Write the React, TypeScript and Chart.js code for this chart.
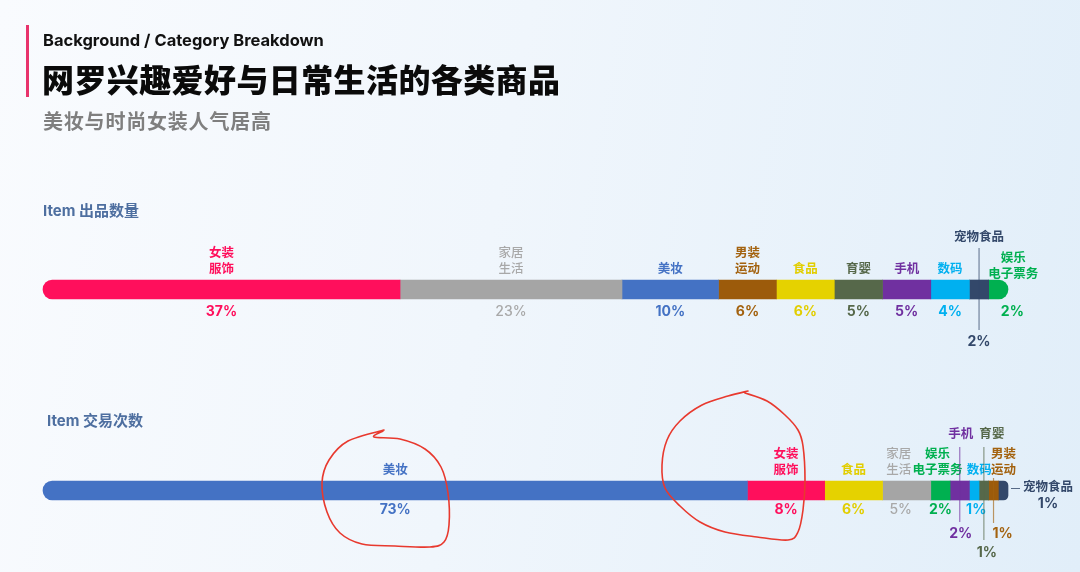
import React, { useEffect, useRef } from 'react';
import { Chart, registerables } from 'chart.js';

Chart.register(...registerables);

// ---------------- data ----------------
const rowTitles = ['Item 出品数量', 'Item 交易次数'];

const topCategories = ['女装服饰', '家居生活', '美妆', '男装运动', '食品', '育婴', '手机', '数码', '宠物食品', '娱乐电子票务'];
const topValues = [37, 23, 10, 6, 6, 5, 5, 4, 2, 2];

const bottomCategories = ['美妆', '女装服饰', '食品', '家居生活', '娱乐电子票务', '手机', '数码', '育婴', '男装运动', '宠物食品'];
const bottomValues = [73, 8, 6, 5, 2, 2, 1, 1, 1, 1];

// ---------------- styles ----------------
const categoryColors: Record<string, string> = {
  '女装服饰': '#FF0F5C',
  '家居生活': '#A5A5A5',
  '美妆': '#4472C4',
  '男装运动': '#9C5B0B',
  '食品': '#E5D200',
  '育婴': '#56684A',
  '手机': '#7030A0',
  '数码': '#00B0F0',
  '宠物食品': '#33486A',
  '娱乐电子票务': '#00B050',
};
const textColors: Record<string, string> = {
  ...categoryColors,
  '家居生活': '#A8A8A8',
  '男装运动': '#A3620F',
  '食品': '#E2CE00',
};
const labelLines: Record<string, string[]> = {
  '女装服饰': ['女装', '服饰'],
  '家居生活': ['家居', '生活'],
  '美妆': ['美妆'],
  '男装运动': ['男装', '运动'],
  '食品': ['食品'],
  '育婴': ['育婴'],
  '手机': ['手机'],
  '数码': ['数码'],
  '宠物食品': ['宠物食品'],
  '娱乐电子票务': ['娱乐', '电子票务'],
};
const lightWeight: Record<string, boolean> = { '家居生活': true };

type Place = {
  mode?: 'above' | 'callout' | 'side';
  dx?: number;
  labelUp?: number;
  lineUp?: number;
  lineDown?: number;
  pctDown?: number;
  pctDx?: number;
};
const rowPct = [13, 10];
const placements: Record<string, Place>[] = [
  {
    '宠物食品': { mode: 'callout', labelUp: 44, lineUp: 32, lineDown: 31, pctDown: 43 },
    '娱乐电子票务': { dx: 15, labelUp: 7, pctDx: 14 },
  },
  {
    '家居生活': { dx: -8, pctDx: -6 },
    '娱乐电子票务': { dx: -3 },
    '数码': { dx: 5, pctDx: 2 },
    '手机': { mode: 'callout', dx: 1, labelUp: 48, lineUp: 34, lineDown: 22, pctDown: 34, pctDx: 1 },
    '育婴': { mode: 'callout', dx: 8, labelUp: 48, lineUp: 34, lineDown: 40, pctDown: 53, pctDx: 3 },
    '男装运动': { mode: 'callout', dx: 10, labelUp: 12, lineUp: 3, lineDown: 23, pctDown: 34, pctDx: 9 },
    '宠物食品': { mode: 'side' },
  },
];

const rows = [
  { cats: topCategories, vals: topValues },
  { cats: bottomCategories, vals: bottomValues },
];

const CJK = '"Noto Sans CJK SC", "Noto Sans", sans-serif';
const LATIN = 'Inter, "Noto Sans CJK SC", sans-serif';

const labelPlugin = {
  id: 'segLabels',
  afterDatasetsDraw(chart: any) {
    const ctx: CanvasRenderingContext2D = chart.ctx;
    ctx.save();
    ctx.textAlign = 'center';
    ctx.textBaseline = 'middle';
    const LH = 15.5;
    rows.forEach((row, r) => {
      row.cats.forEach((cat, i) => {
        const el = chart.getDatasetMeta(i).data[r];
        if (!el) return;
        const p = el.getProps(['x', 'base', 'y', 'height'], true);
        const left = Math.min(p.x, p.base);
        const right = Math.max(p.x, p.base);
        const cx = (left + right) / 2;
        const top = p.y - p.height / 2;
        const bottom = p.y + p.height / 2;
        const pl: Place = placements[r][cat] || {};
        const color = textColors[cat];
        const w = lightWeight[cat] ? '500' : 'bold';
        const lines = labelLines[cat];
        const pct = row.vals[i] + '%';
        ctx.fillStyle = color;
        if (pl.mode === 'side') {
          const tx = right + 40;
          ctx.strokeStyle = color;
          ctx.globalAlpha = 0.8;
          ctx.lineWidth = 1;
          ctx.beginPath();
          ctx.moveTo(right + 3, p.y - 2);
          ctx.lineTo(right + 12, p.y - 2);
          ctx.stroke();
          ctx.globalAlpha = 1;
          ctx.font = `${w} 12.5px ${CJK}`;
          ctx.fillText(lines.join(''), tx, p.y - 4);
          ctx.font = `${w} 14px ${LATIN}`;
          ctx.fillText(pct, tx, p.y + 13);
          return;
        }
        const lx = cx + (pl.dx || 0);
        const labelUp = pl.labelUp ?? 12;
        ctx.font = `${w} 12.5px ${CJK}`;
        lines.forEach((ln, k) => {
          const yy = top - labelUp - (lines.length - 1 - k) * LH;
          ctx.fillText(ln, lx, yy);
        });
        const pctDown = pl.pctDown ?? rowPct[r];
        ctx.font = `${w} 14px ${LATIN}`;
        ctx.fillText(pct, cx + (pl.pctDx || 0), bottom + pctDown);
        if (pl.mode === 'callout') {
          ctx.strokeStyle = color;
          ctx.globalAlpha = 0.65;
          ctx.lineWidth = 1.2;
          ctx.beginPath();
          ctx.moveTo(cx, top - (pl.lineUp || 0));
          ctx.lineTo(cx, bottom + (pl.lineDown || 0));
          ctx.stroke();
          ctx.globalAlpha = 1;
        }
      });
    });
    ctx.restore();
  },
};

function smoothPath(pts: number[][]): string {
  let d = `M ${pts[0][0]} ${pts[0][1]}`;
  for (let i = 0; i < pts.length - 1; i++) {
    const p0 = pts[i - 1] || pts[i];
    const p1 = pts[i];
    const p2 = pts[i + 1];
    const p3 = pts[i + 2] || p2;
    const c1 = [p1[0] + (p2[0] - p0[0]) / 6, p1[1] + (p2[1] - p0[1]) / 6];
    const c2 = [p2[0] - (p3[0] - p1[0]) / 6, p2[1] - (p3[1] - p1[1]) / 6];
    d += ` C ${c1[0]} ${c1[1]}, ${c2[0]} ${c2[1]}, ${p2[0]} ${p2[1]}`;
  }
  return d;
}

// hand-drawn annotation strokes
const annotation1 = [
  [383, 431], [374, 437], [400, 439], [425, 449], [441, 467], [448, 493], [449, 525], [444, 542],
  [430, 547], [395, 546], [362, 544], [340, 533], [327, 512], [322, 483], [329, 460], [348, 441], [384, 430],
];
const annotation2 = [
  [745, 393], [767, 401], [785, 415], [798, 430], [803, 446], [805, 480], [803, 510], [798, 532],
  [788, 540], [757, 537], [725, 532], [700, 522], [680, 506], [665, 488], [662, 465], [667, 440],
  [680, 421], [702, 405], [728, 396], [748, 391],
];

export default function App() {
  const canvasRef = useRef<HTMLCanvasElement | null>(null);

  useEffect(() => {
    const canvas = canvasRef.current;
    if (!canvas) return;
    const n = topCategories.length;
    const datasets = topCategories.map((_, i) => ({
      data: [topValues[i], bottomValues[i]],
      backgroundColor: [categoryColors[topCategories[i]], categoryColors[bottomCategories[i]]],
      borderWidth: 0,
      borderSkipped: false,
      borderRadius:
        i === 0
          ? { topLeft: 10, bottomLeft: 10, topRight: 0, bottomRight: 0 }
          : i === n - 1
          ? { topLeft: 0, bottomLeft: 0, topRight: 10, bottomRight: 10 }
          : 0,
      barThickness: 19,
      clip: false,
    }));
    const chart = new Chart(canvas, {
      type: 'bar',
      data: { labels: rowTitles, datasets: datasets as any },
      options: {
        indexAxis: 'y',
        responsive: false,
        animation: false,
        devicePixelRatio: 1,
        layout: { padding: { left: 43, right: 72, top: 289.5, bottom: 81.5 } },
        scales: {
          x: { stacked: true, min: 0, max: 100, display: false },
          y: { stacked: true, display: false, offset: false },
        },
        plugins: { legend: { display: false }, tooltip: { enabled: false } },
      },
      plugins: [labelPlugin],
    });
    return () => chart.destroy();
  }, []);

  const sectionStyle: React.CSSProperties = {
    position: 'absolute',
    left: 43,
    fontFamily: LATIN,
    fontWeight: 700,
    fontSize: 15,
    color: '#4E6FA0',
    lineHeight: '20px',
  };

  return (
    <div
      style={{
        position: 'fixed',
        left: 0,
        top: 0,
        width: 1080,
        height: 572,
        overflow: 'hidden',
        background: 'linear-gradient(100deg, #f9fbfe 0%, #f0f6fc 45%, #e1eef9 100%)',
        fontFamily: CJK,
      }}
    >
      <canvas
        ref={canvasRef}
        width={1080}
        height={572}
        style={{ position: 'absolute', left: 0, top: 0, width: 1080, height: 572 }}
      />
      <div style={{ position: 'absolute', left: 26, top: 25, width: 2.5, height: 72, background: '#E8336C' }} />
      <div
        style={{
          position: 'absolute', left: 43, top: 29, fontFamily: LATIN, fontWeight: 700, fontSize: 16.5,
          color: '#111', lineHeight: '22px', whiteSpace: 'nowrap',
        }}
      >
        Background / Category Breakdown
      </div>
      <div
        style={{
          position: 'absolute', left: 42, top: 58, fontWeight: 900, fontSize: 32, letterSpacing: 0.4,
          color: '#0a0a0a', lineHeight: '40px', whiteSpace: 'nowrap', fontFamily: CJK,
        }}
      >
        网罗兴趣爱好与日常生活的各类商品
      </div>
      <div
        style={{
          position: 'absolute', left: 43, top: 108, fontWeight: 700, fontSize: 20, letterSpacing: 0.8,
          color: '#7F7F7F', lineHeight: '26px', whiteSpace: 'nowrap', fontFamily: CJK,
        }}
      >
        美妆与时尚女装人气居高
      </div>
      <div style={{ ...sectionStyle, top: 201 }}>{rowTitles[0]}</div>
      <div style={{ ...sectionStyle, top: 411, left: 47 }}>{rowTitles[1]}</div>
      <svg width={1080} height={572} style={{ position: 'absolute', left: 0, top: 0, pointerEvents: 'none' }}>
        <path d={smoothPath(annotation1)} fill="none" stroke="#E8392E" strokeWidth={1.6} strokeLinecap="round" />
        <path d={smoothPath(annotation2)} fill="none" stroke="#E8392E" strokeWidth={1.6} strokeLinecap="round" />
      </svg>
    </div>
  );
}
